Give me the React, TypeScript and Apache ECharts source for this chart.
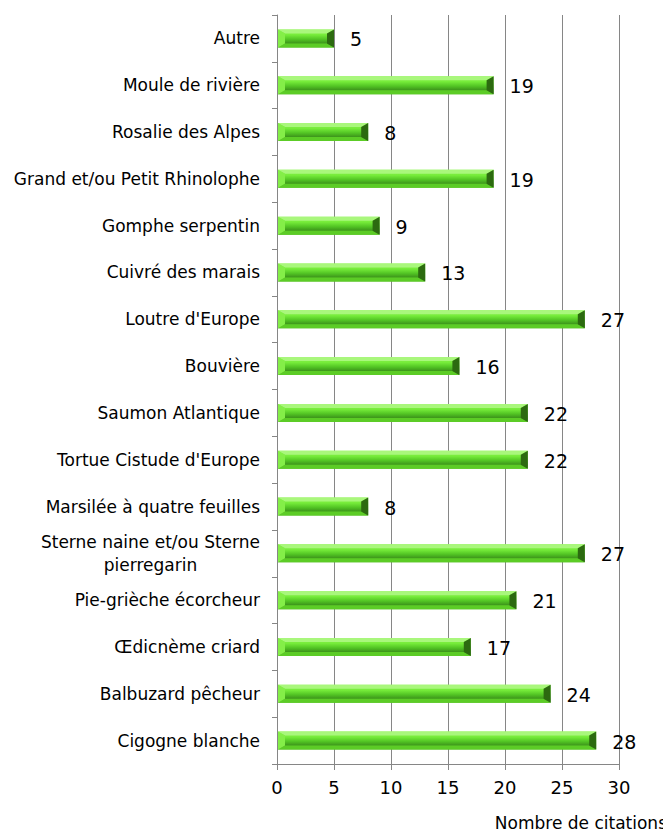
import React, { useEffect, useRef } from "react";
import * as echarts from "echarts";

const categories = [
  "Cigogne blanche",
  "Balbuzard pêcheur",
  "Œdicnème criard",
  "Pie-grièche écorcheur",
  "Sterne naine et/ou Sterne\npierregarin",
  "Marsilée à quatre feuilles",
  "Tortue Cistude d'Europe",
  "Saumon Atlantique",
  "Bouvière",
  "Loutre d'Europe",
  "Cuivré des marais",
  "Gomphe serpentin",
  "Grand et/ou Petit Rhinolophe",
  "Rosalie des Alpes",
  "Moule de rivière",
  "Autre",
];
const citations = [28, 24, 17, 21, 27, 8, 22, 22, 16, 27, 13, 9, 19, 8, 19, 5];
const xTicks = { min: 0, max: 30, interval: 5 };
const xName = "Nombre de citations";

export default function App() {
  const ref = useRef<HTMLDivElement>(null);
  useEffect(() => {
    const chart = echarts.init(ref.current!, null, { renderer: "svg" });
    const font = "'DejaVu Sans', 'Noto Sans', sans-serif";
    const faceGrad = () =>
      new echarts.graphic.LinearGradient(0, 0, 0, 1, [
        { offset: 0, color: "#8ff252" },
        { offset: 0.3, color: "#76ec3a" },
        { offset: 0.55, color: "#52c424" },
        { offset: 0.75, color: "#3f991c" },
        { offset: 1, color: "#50b821" },
      ]);
    const renderItem = (params: any, api: any) => {
      const v = api.value(0);
      const cat = api.value(1);
      const p0 = api.coord([0, cat]);
      const p1 = api.coord([v, cat]);
      const h = 18;
      const x0 = p0[0] + 1;
      const x1 = p1[0];
      const top = p0[1] - h / 2;
      const bot = p0[1] + h / 2;
      const bx = 7;
      const by = 4;
      return {
        type: "group",
        children: [
          {
            type: "rect",
            shape: { x: x0, y: top, width: x1 - x0, height: h },
            style: { fill: faceGrad() },
          },
          {
            type: "polygon",
            shape: { points: [[x0, top], [x1, top], [x1 - bx, top + by], [x0 + bx, top + by]] },
            style: { fill: "#a9f77c" },
          },
          {
            type: "polygon",
            shape: { points: [[x0, bot], [x1, bot], [x1 - bx, bot - by], [x0 + bx, bot - by]] },
            style: { fill: "#5ccc26" },
          },
          {
            type: "polygon",
            shape: { points: [[x0, top], [x0, bot], [x0 + bx, bot - by], [x0 + bx, top + by]] },
            style: { fill: "#84ee48" },
          },
          {
            type: "polygon",
            shape: { points: [[x1, top], [x1, bot], [x1 - bx, bot - by], [x1 - bx, top + by]] },
            style: { fill: "#2c6a10" },
          },
          {
            type: "text",
            x: x1 + 16,
            y: p0[1] + 1,
            style: {
              text: String(v),
              fill: "#000",
              fontSize: 19,
              fontFamily: font,
              verticalAlign: "middle",
              align: "left",
            },
          },
        ],
      };
    };
    chart.setOption({
      animation: false,
      grid: { left: 269, right: 52, top: 7, bottom: 73, containLabel: false },
      graphic: [
        {
          type: "text",
          right: 4,
          top: 806,
          style: { text: xName, fill: "#000", fontSize: 17, fontFamily: font },
        },
      ],
      xAxis: {
        type: "value",
        min: xTicks.min,
        max: xTicks.max,
        interval: xTicks.interval,
        axisLine: { show: true, lineStyle: { color: "#868686" } },
        axisTick: { show: true, length: 6, lineStyle: { color: "#868686" } },
        axisLabel: { color: "#000", fontSize: 18, fontFamily: font, margin: 14 },
        splitLine: { show: true, lineStyle: { color: "#868686", width: 1 } },
      },
      yAxis: {
        type: "category",
        data: categories,
        axisLine: { show: true, lineStyle: { color: "#868686" } },
        axisTick: { show: true, length: 5, lineStyle: { color: "#868686" } },
        axisLabel: {
          color: "#000",
          fontSize: 17,
          fontFamily: font,
          margin: 17,
          align: "right",
          formatter: (v: string) =>
            v
              .split("\n")
              .map((s) => "{c|" + s + "}")
              .join("\n"),
          rich: {
            c: {
              color: "#000",
              fontSize: 17,
              fontFamily: font,
              align: "center",
              lineHeight: 23,
            },
          },
        },
        splitLine: { show: false },
      },
      series: [
        {
          type: "custom",
          renderItem,
          encode: { x: 0, y: 1 },
          data: citations.map((v, i) => [v, i]),
          z: 3,
        },
      ],
    });
    return () => chart.dispose();
  }, []);
  return <div ref={ref} style={{ width: 663, height: 829 }} />;
}
